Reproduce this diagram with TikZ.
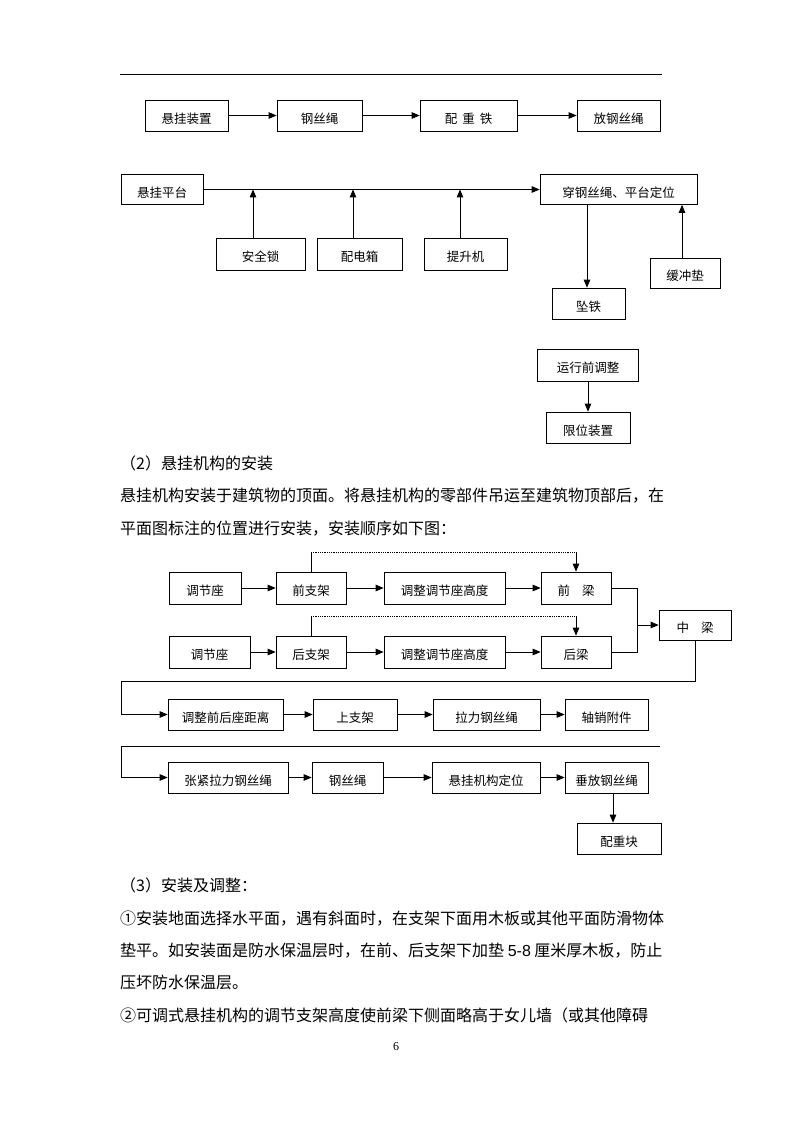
\documentclass[tikz,border=0pt]{standalone}
\usepackage{fontspec}
\setmainfont{Liberation Serif}
\newfontfamily\cjk{Noto Sans CJK SC}
\newfontfamily\latin{Liberation Sans}
\usetikzlibrary{arrows}

\begin{document}
\begin{tikzpicture}[x=1pt,y=-1pt]
\tikzset{blk/.style={draw,line width=0.8pt,minimum height=31,inner sep=0pt,text height=16pt,text depth=0.5pt,font=\cjk\fontsize{12.5}{14}\selectfont}}
\tikzset{txt/.style={anchor=base west,inner sep=0pt,font=\cjk\fontsize{16}{18}\selectfont}}
\tikzset{lnk/.style={line width=0.8pt,-triangle 45}}
\tikzset{seg/.style={line width=0.8pt}}

\useasboundingbox[fill=white] (0,0) rectangle (793,1122);

% page rule
\coordinate (r1) at (120,74);
\coordinate (r2) at (662,74);
\draw[seg] (r1) -- (r2);

% first chain
\node[blk,minimum width=83] (xgzz) at (186.5,115.5) {悬挂装置};
\node[blk,minimum width=85] (gss) at (319.5,115.5) {钢丝绳};
\node[blk,minimum width=97] (pzt) at (468.5,115.5) {配\hspace{5pt}重\hspace{5pt}铁};
\node[blk,minimum width=83] (fgss) at (618.5,115.5) {放钢丝绳};
\draw[lnk] (xgzz) -- (gss);
\draw[lnk] (gss) -- (pzt);
\draw[lnk] (pzt) -- (fgss);

% platform
\node[blk,minimum width=82,minimum height=30] (xgpt) at (162,189.5) {悬挂平台};
\node[blk,minimum width=157,minimum height=30] (cgss) at (618.5,189.5) {穿钢丝绳、平台定位};
\draw[lnk] (xgpt) -- (cgss);
\node[blk,minimum width=89,minimum height=32] (aqs) at (260.5,254) {安全锁};
\node[blk,minimum width=85,minimum height=32] (pdx) at (359.5,254) {配电箱};
\node[blk,minimum width=83,minimum height=32] (tsj) at (465.5,254) {提升机};
\coordinate (m1) at (253,189.5);
\coordinate (m2) at (353,189.5);
\coordinate (m3) at (460,189.5);
\draw[lnk] (aqs.north -| m1) -- (m1);
\draw[lnk] (pdx.north -| m2) -- (m2);
\draw[lnk] (tsj.north -| m3) -- (m3);
\node[blk,minimum width=73] (zt) at (588.5,303.5) {坠铁};
\node[blk,minimum width=70,minimum height=30] (hcd) at (685,273) {缓冲垫};
\coordinate (m4) at (587,304);
\coordinate (m5) at (682,273);
\draw[lnk] (cgss.south -| m4) -- (zt.north -| m4);
\draw[lnk] (hcd.north -| m5) -- (cgss.south -| m5);

% adjustment
\node[blk,minimum width=101,minimum height=32] (yxq) at (588,365) {运行前调整};
\node[blk,minimum width=84] (xwzz) at (588,427.5) {限位装置};
\draw[lnk] (yxq) -- (xwzz);

% text
\node[txt] (t1) at (120,469) {（2）悬挂机构的安装};
\node[txt] (t2) at (120,501) {悬挂机构安装于建筑物的顶面。将悬挂机构的零部件吊运至建筑物顶部后，在};
\node[txt] (t3) at (120,534) {平面图标注的位置进行安装，安装顺序如下图：};

% mechanism, rows 1 and 2
\node[blk,minimum width=72,minimum height=32] (tjz1) at (205,588) {调节座};
\node[blk,minimum width=70,minimum height=32] (qzj) at (311,588) {前支架};
\node[blk,minimum width=121,minimum height=32] (tzg1) at (444.5,588) {调整调节座高度};
\node[blk,minimum width=70,minimum height=32] (ql) at (576,588) {前\hspace{12pt}梁};
\node[blk,minimum width=81,minimum height=32] (tjz2) at (209.5,652) {调节座};
\node[blk,minimum width=70,minimum height=32] (hzj) at (311,652) {后支架};
\node[blk,minimum width=121,minimum height=32] (tzg2) at (444.5,652) {调整调节座高度};
\node[blk,minimum width=70,minimum height=32] (hl) at (576,652) {后梁};
\node[blk,minimum width=72,minimum height=30] (zl) at (695,625) {中\hspace{12pt}梁};
\draw[lnk] (tjz1) -- (qzj);
\draw[lnk] (qzj) -- (tzg1);
\draw[lnk] (tzg1) -- (ql);
\draw[lnk] (tjz2) -- (hzj);
\draw[lnk] (hzj) -- (tzg2);
\draw[lnk] (tzg2) -- (hl);
\coordinate (d1) at (576,552);
\coordinate (d2) at (576,616);
\draw[seg] (qzj.north) -- (qzj.north |- d1);
\draw[seg,densely dotted] (qzj.north |- d1) -- (d1);
\draw[lnk] (d1) -- (ql.north);
\draw[seg] (hzj.north) -- (hzj.north |- d2);
\draw[seg,densely dotted] (hzj.north |- d2) -- (d2);
\draw[lnk] (d2) -- (hl.north);
\coordinate (j1) at (637,625);
\draw[seg] (ql.east) -| (j1);
\draw[seg] (hl.east) -| (j1);
\draw[lnk] (j1) -- (zl.west);

% row 3
\node[blk,minimum width=115] (tzqh) at (225.5,714.5) {调整前后座距离};
\node[blk,minimum width=84] (szj) at (355,714.5) {上支架};
\node[blk,minimum width=107] (llgss) at (486.5,714.5) {拉力钢丝绳};
\node[blk,minimum width=83] (zxfj) at (606.5,714.5) {轴销附件};
\coordinate (c1) at (121,681);
\draw[lnk] (zl.south) |- (c1) -- (c1 |- tzqh.west) -- (tzqh.west);
\draw[lnk] (tzqh) -- (szj);
\draw[lnk] (szj) -- (llgss);
\draw[lnk] (llgss) -- (zxfj);

% row 4
\node[blk,minimum width=120] (zjll) at (228,777.5) {张紧拉力钢丝绳};
\node[blk,minimum width=71] (gss2) at (347.5,777.5) {钢丝绳};
\node[blk,minimum width=108] (xgdw) at (486,777.5) {悬挂机构定位};
\node[blk,minimum width=83] (cfgss) at (606.5,777.5) {垂放钢丝绳};
\node[blk,minimum width=84] (pzk) at (619,838.5) {配重块};
\coordinate (c2) at (660,746);
\coordinate (c3) at (121,746);
\draw[lnk] (c2) -- (c3) -- (c3 |- zjll.west) -- (zjll.west);
\draw[lnk] (zjll) -- (gss2);
\draw[lnk] (gss2) -- (xgdw);
\draw[lnk] (xgdw) -- (cfgss);
\coordinate (m6) at (613,800);
\draw[lnk] (cfgss.south -| m6) -- (pzk.north -| m6);

% text
\node[txt] (t4) at (120,891) {（3）安装及调整：};
\node[txt] (t5) at (120,924) {①安装地面选择水平面，遇有斜面时，在支架下面用木板或其他平面防滑物体};
\node[txt] (t6) at (120,956) {垫平。如安装面是防水保温层时，在前、后支架下加垫 {\latin 5-8} 厘米厚木板，防止};
\node[txt] (t7) at (120,988) {压坏防水保温层。};
\node[txt] (t8) at (120,1021) {②可调式悬挂机构的调节支架高度使前梁下侧面略高于女儿墙（或其他障碍};
\node[font=\fontsize{12}{14}\selectfont] (pg) at (396,1047) {6};
\end{tikzpicture}
\end{document}
